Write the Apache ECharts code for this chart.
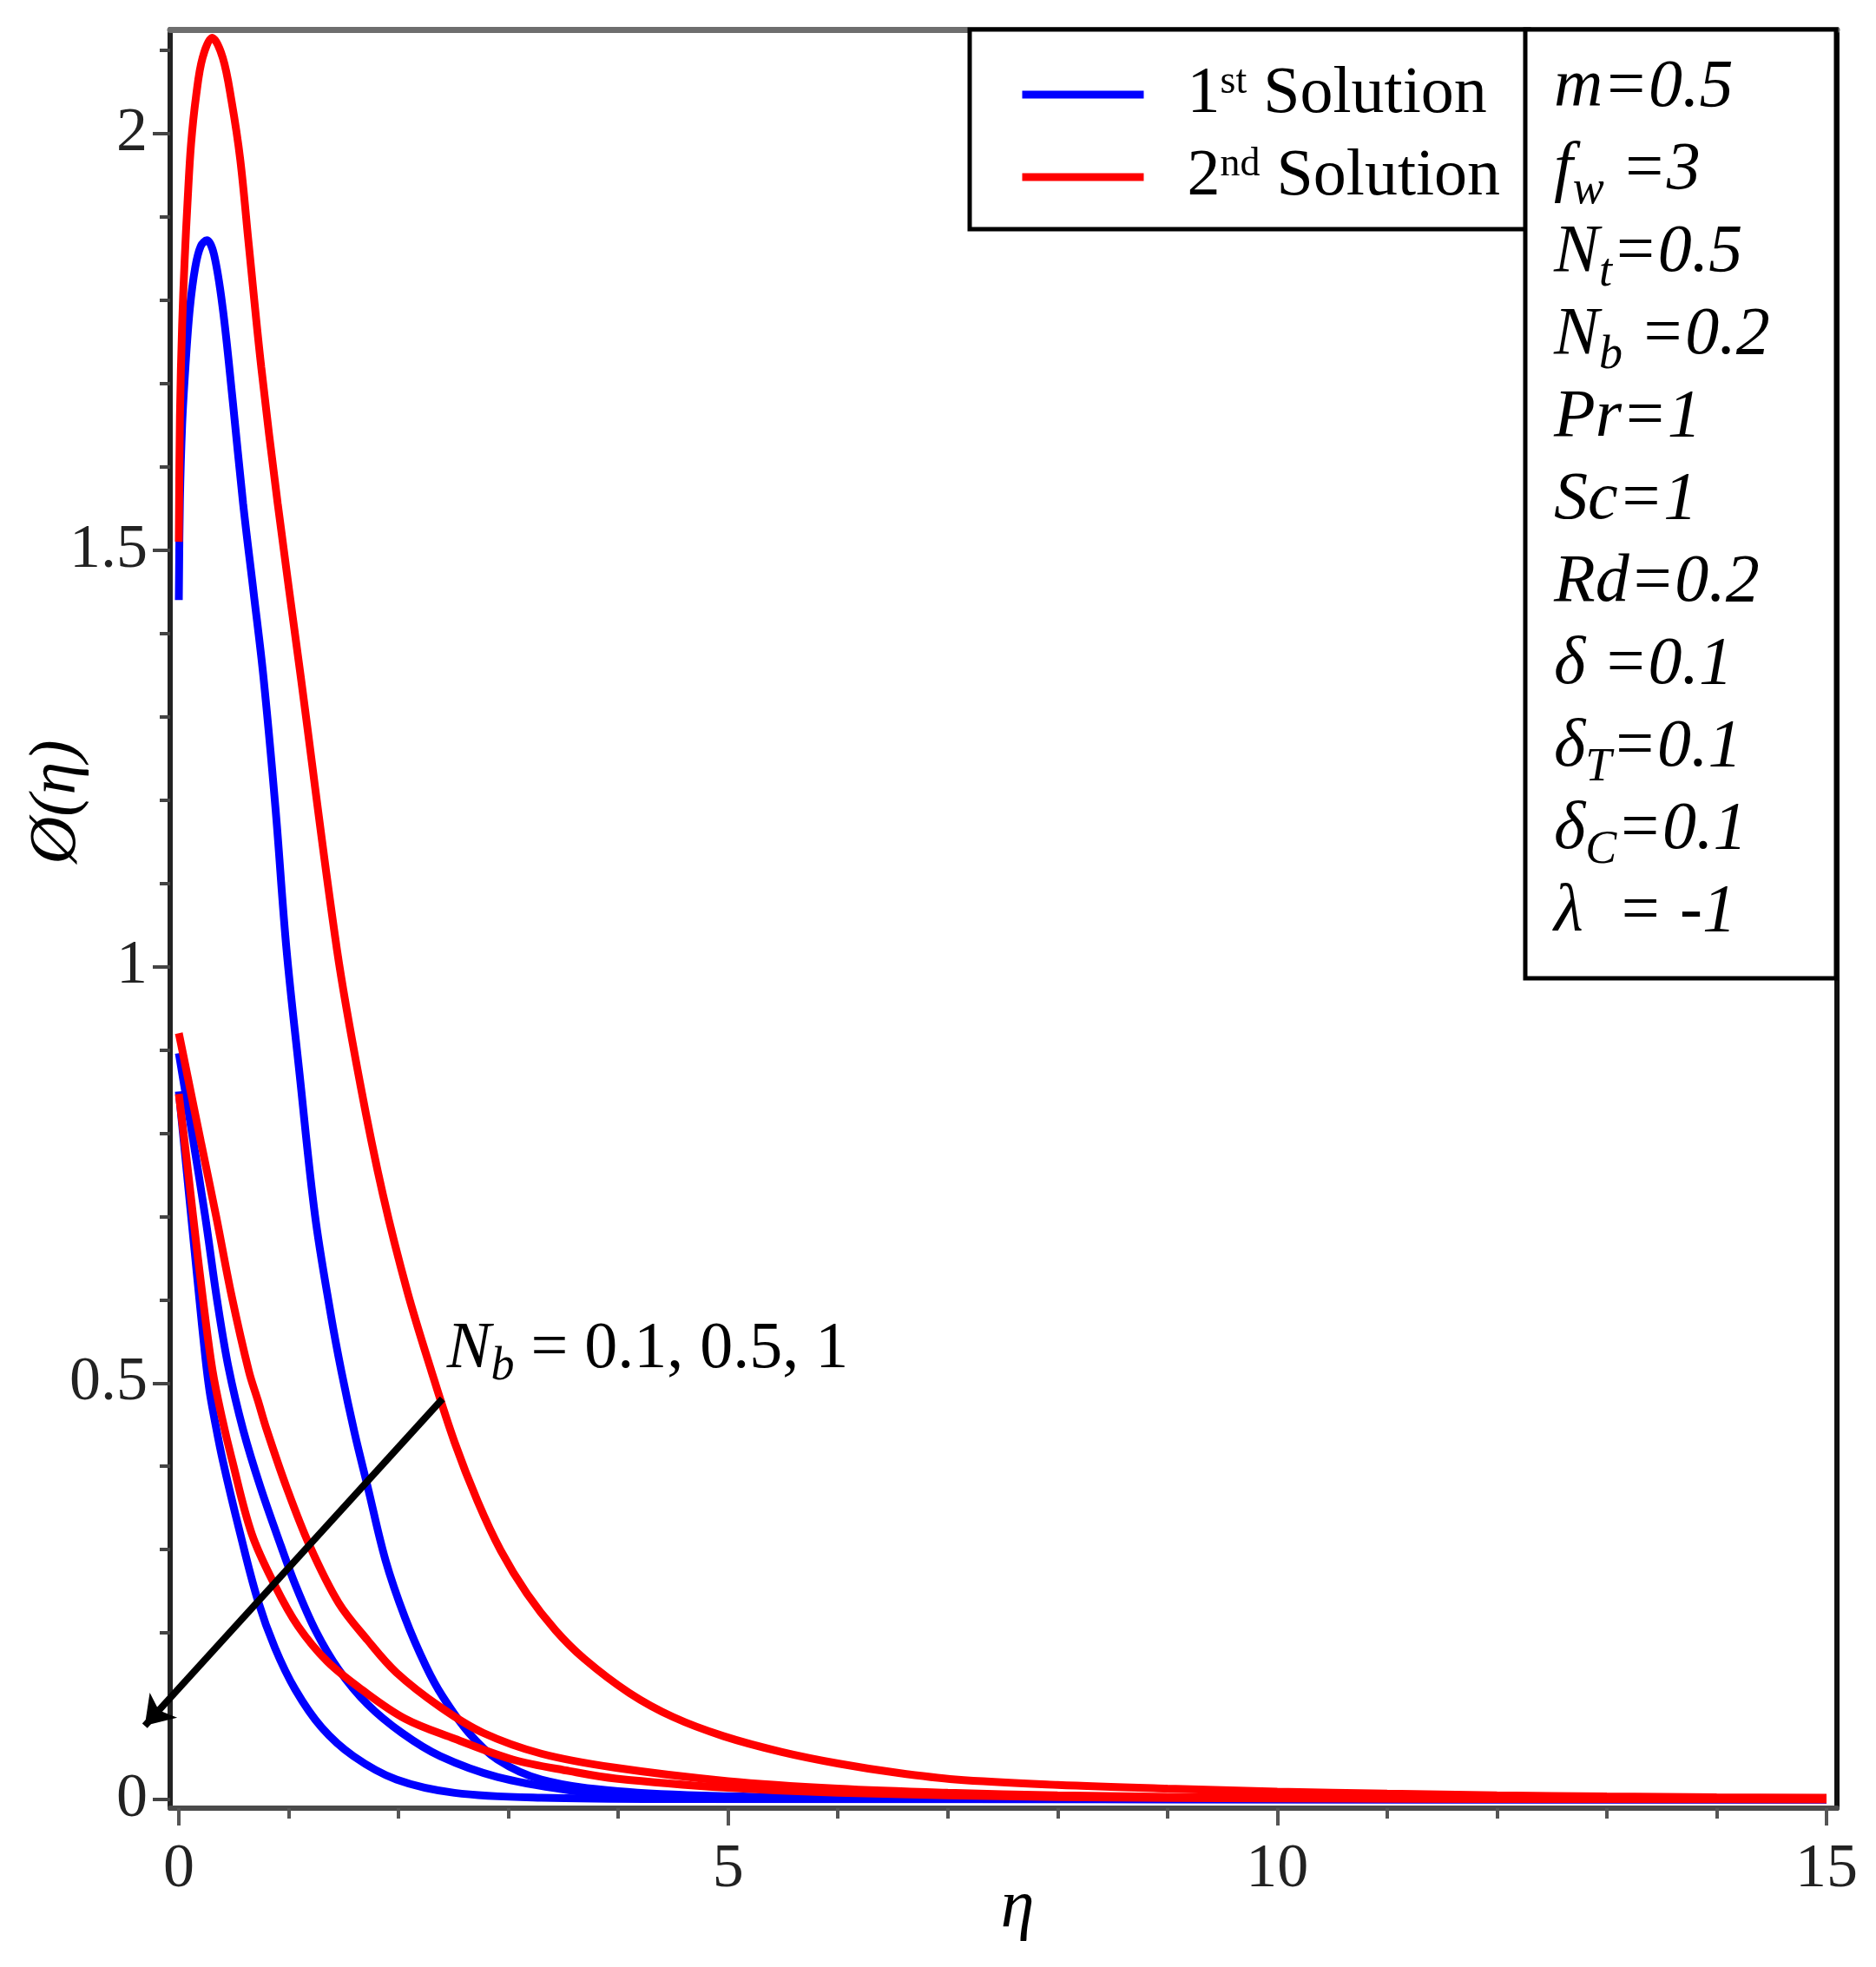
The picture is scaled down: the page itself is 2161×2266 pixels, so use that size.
<!DOCTYPE html>
<html>
<head>
<meta charset="utf-8">
<title>concentration profiles</title>
<script src="https://cdn.jsdelivr.net/npm/echarts@6.0.0/dist/echarts.min.js"></script>
<style>
  html, body { margin: 0; padding: 0; background: #fff; }
  #main { width: 2161px; height: 2266px; }
</style>
</head>
<body>
<div id="main"></div>
<script>
// 1st solution (blue) for Nb = 0.1, 0.5, 1  -> [eta, phi]
var blueNb01 = [[0,1.44],[0.01,1.56],[0.03,1.65],[0.06,1.72],[0.1,1.79],[0.15,1.84],[0.2,1.865],[0.255,1.872],[0.32,1.855],[0.4,1.79],[0.49,1.68],[0.585,1.556],[0.68,1.45],[0.77,1.348],[0.88,1.19],[0.98,1.021],[1.1,0.87],[1.24,0.701],[1.38,0.585],[1.48,0.514],[1.6,0.44],[1.72,0.375],[1.88,0.288],[2.06,0.218],[2.25,0.16],[2.4,0.124],[2.64,0.08],[2.9,0.048],[3.3,0.024],[4,0.01],[5,0.004],[6.5,0.0015],[9,0.0004],[15,0]];
var blueNb05 = [[0,0.896],[0.12,0.8],[0.24,0.7],[0.35,0.598],[0.453,0.518],[0.585,0.444],[0.743,0.375],[0.928,0.305],[1.06,0.258],[1.244,0.203],[1.455,0.156],[1.72,0.114],[2.03,0.08],[2.38,0.052],[2.9,0.027],[3.56,0.011],[4,0.006],[5,0.002],[7,0.0005],[15,0]];
var blueNb1 = [[0,0.85],[0.06,0.77],[0.12,0.69],[0.18,0.61],[0.242,0.53],[0.28,0.49],[0.32,0.46],[0.4,0.407],[0.559,0.319],[0.717,0.24],[0.875,0.182],[1.06,0.132],[1.3,0.0865],[1.59,0.052],[1.98,0.024],[2.51,0.008],[3.3,0.002],[4.5,0.0005],[15,0]];

// 2nd solution (red) for Nb = 0.1, 0.5, 1
var redNb01 = [[0,1.51],[0.01,1.66],[0.03,1.77],[0.053,1.848],[0.079,1.917],[0.111,1.987],[0.158,2.046],[0.216,2.091],[0.303,2.115],[0.4,2.091],[0.48,2.039],[0.559,1.969],[0.638,1.865],[0.75,1.72],[0.9,1.556],[1.11,1.348],[1.44,1.02],[1.65,0.86],[1.86,0.725],[2.08,0.61],[2.3,0.514],[2.51,0.429],[2.72,0.358],[2.93,0.299],[3.17,0.247],[3.43,0.203],[3.69,0.169],[4.1,0.128],[4.5,0.099],[4.96,0.076],[5.49,0.057],[6.01,0.043],[6.54,0.032],[7.07,0.024],[8,0.0175],[9,0.013],[10,0.0095],[11,0.007],[12,0.005],[13,0.0037],[14,0.0027],[15,0.002]];
var redNb05 = [[0,0.92],[0.1,0.855],[0.2,0.79],[0.34,0.7],[0.48,0.605],[0.638,0.514],[0.72,0.479],[0.8,0.444],[0.98,0.375],[1.19,0.305],[1.455,0.236],[1.72,0.191],[1.98,0.1525],[2.38,0.111],[2.77,0.08],[3.3,0.055],[3.98,0.038],[5,0.022],[6,0.013],[7,0.008],[8,0.005],[10,0.002],[12,0.001],[15,0.0003]];
var redNb1 = [[0,0.847],[0.07,0.77],[0.13,0.7],[0.22,0.6],[0.308,0.514],[0.39,0.46],[0.48,0.41],[0.664,0.319],[0.875,0.257],[1.086,0.208],[1.35,0.166],[1.665,0.132],[2.06,0.097],[2.51,0.073],[3.04,0.048],[3.56,0.034],[3.98,0.025],[5,0.014],[6,0.008],[8,0.003],[10,0.0012],[15,0.0002]];

// ticks
var xMajor = [0, 5, 10, 15];
var xMinor = [0, 1, 2, 3, 4, 5, 6, 7, 8, 9, 10, 11, 12, 13, 14, 15];
var yMajor = [0, 0.5, 1, 1.5, 2];
var yMinor = [0, 0.1, 0.2, 0.3, 0.4, 0.5, 0.6, 0.7, 0.8, 0.9, 1, 1.1, 1.2, 1.3, 1.4, 1.5, 1.6, 1.7, 1.8, 1.9, 2, 2.1];

// legend and parameter box text: [number, superscript, rest] / [symbol, subscript, rest]
var legendNames = ['1st Solution', '2nd Solution'];
var legendParts = [['1', 'st', ' Solution'], ['2', 'nd', ' Solution']];
var params = [
  ['m', '', '=0.5'],
  ['f', 'w', ' =3'],
  ['N', 't', '=0.5'],
  ['N', 'b', ' =0.2'],
  ['Pr', '', '=1'],
  ['Sc', '', '=1'],
  ['Rd', '', '=0.2'],
  ['δ', '', ' =0.1'],
  ['δ', 'T', '=0.1'],
  ['δ', 'C', '=0.1'],
  ['λ', '', '  = -1']
];

// arrow across the Nb curves and its label
var arrowFrom = [2.40, 0.481];
var arrowTo = [-0.31, 0.0885];
var nbLabelAt = [2.44, 0.54];
var nbLabel = ['N', 'b', ' = 0.1, 0.5, 1'];

var serif = 'Liberation Serif';
var chart = echarts.init(document.getElementById('main'));

function curve(name, data, color) {
  return {
    name: name, type: 'line', data: data,
    showSymbol: false, symbol: 'none',
    smooth: 0.35,
    lineStyle: { color: color, width: 9 },
    itemStyle: { color: color },
    z: 2
  };
}

var xMin = -0.079, xMax = 15.095, yMin = -0.0104, yMax = 2.125;

function frameAxis(pos, color, width) {
  var horiz = pos === 'top' || pos === 'bottom';
  return {
    type: 'value', position: pos,
    min: horiz ? xMin : yMin, max: horiz ? xMax : yMax,
    axisLine: { show: true, onZero: false, lineStyle: { color: color, width: width } },
    axisTick: { show: false }, axisLabel: { show: false }, splitLine: { show: false }
  };
}

var paramText = params.map(function (p) {
  return '{i|' + p[0] + '}' + (p[1] ? '{s|' + p[1] + '}' : '') + '{i|' + p[2] + '}';
}).join('\n');

var option = {
  animation: false,
  backgroundColor: '#fff',
  grid: { left: 196, right: 45, top: 34, bottom: 183, containLabel: false, outerBoundsMode: 'none' },
  legend: {
    data: legendNames,
    orient: 'vertical',
    left: 1117, top: 34,
    padding: [37, 33, 22, 56],
    itemWidth: 140, itemHeight: 40, itemGap: 19,
    backgroundColor: '#fff', borderColor: '#000', borderWidth: 5,
    selectedMode: false,
    itemStyle: { opacity: 0 },
    lineStyle: { width: 9 },
    formatter: function (name) {
      var p = legendParts[legendNames.indexOf(name)];
      return '{lead|' + p[0] + '}{sup|' + p[1] + '}{n|' + p[2] + '}';
    },
    textStyle: {
      fontFamily: serif, fontSize: 76, color: '#000',
      rich: {
        lead: { fontFamily: serif, fontSize: 76, lineHeight: 76, color: '#000', padding: [0, 0, 0, 45] },
        sup: { fontFamily: serif, fontSize: 46, lineHeight: 46, color: '#000', padding: [0, 0, 29, 0] },
        n: { fontFamily: serif, fontSize: 76, lineHeight: 76, color: '#000' }
      }
    }
  },
  xAxis: [
    {
      type: 'value', position: 'bottom', min: xMin, max: xMax,
      axisLine: { show: true, onZero: false, lineStyle: { color: '#4a4a4a', width: 6 } },
      axisTick: { show: true, customValues: xMajor, length: 20, lineStyle: { color: '#555', width: 4 } },
      axisLabel: { customValues: xMajor, margin: 35, fontFamily: serif, fontSize: 72, color: '#222' },
      splitLine: { show: false },
      name: 'η', nameLocation: 'middle', nameGap: 76, nameMoveOverlap: false,
      nameTextStyle: { fontFamily: serif, fontStyle: 'italic', fontSize: 78, color: '#000', padding: [0, 0, 0, 32] }
    },
    {
      type: 'value', position: 'bottom', min: xMin, max: xMax,
      axisLine: { show: false, onZero: false },
      axisTick: { show: true, customValues: xMinor, length: 12, lineStyle: { color: '#555', width: 4 } },
      axisLabel: { show: false }, splitLine: { show: false }
    },
    frameAxis('top', '#6e6e6e', 7)
  ],
  yAxis: [
    {
      type: 'value', position: 'left', min: yMin, max: yMax,
      axisLine: { show: true, onZero: false, lineStyle: { color: '#222', width: 6 } },
      axisTick: { show: true, customValues: yMajor, length: 20, lineStyle: { color: '#444', width: 4 } },
      axisLabel: { customValues: yMajor, margin: 26, fontFamily: serif, fontSize: 72, color: '#222' },
      splitLine: { show: false }
    },
    {
      type: 'value', position: 'left', min: yMin, max: yMax,
      axisLine: { show: false, onZero: false },
      axisTick: { show: true, customValues: yMinor, length: 12, lineStyle: { color: '#444', width: 4 } },
      axisLabel: { show: false }, splitLine: { show: false }
    },
    frameAxis('right', '#111', 6)
  ],
  series: [
    curve(legendNames[0], blueNb01, '#0000ff'),
    curve(legendNames[0], blueNb05, '#0000ff'),
    curve(legendNames[0], blueNb1, '#0000ff'),
    curve(legendNames[1], redNb01, '#ff0000'),
    curve(legendNames[1], redNb05, '#ff0000'),
    curve(legendNames[1], redNb1, '#ff0000'),
    {
      name: 'arrow', type: 'lines', coordinateSystem: 'cartesian2d',
      clip: false, silent: true, z: 5,
      symbol: ['none', 'arrow'], symbolSize: 32,
      lineStyle: { color: '#000', width: 8, opacity: 1 },
      data: [{ coords: [arrowFrom, arrowTo] }]
    }
  ],
  graphic: [
    {
      id: 'paramBox', type: 'rect', z: 10,
      shape: { x: 1757, y: 34, width: 358, height: 1093 },
      style: { fill: '#fff', stroke: '#000', lineWidth: 5 }
    },
    {
      id: 'paramText', type: 'text', z: 11, x: 1790, y: 54,
      style: {
        text: paramText, align: 'left', verticalAlign: 'top',
        rich: {
          i: { fontFamily: serif, fontStyle: 'italic', fontSize: 78, lineHeight: 95, fill: '#000' },
          s: { fontFamily: serif, fontStyle: 'italic', fontSize: 54, lineHeight: 48, fill: '#000', padding: [46, 0, 0, 0] }
        }
      }
    },
    {
      id: 'yName', type: 'text', z: 11, x: 66, y: 924, rotation: Math.PI / 2,
      style: {
        text: 'Ø(η)', fontFamily: serif, fontStyle: 'italic', fontSize: 76,
        fill: '#000', align: 'center', verticalAlign: 'middle'
      }
    }
  ]
};

chart.setOption(option);

// label for the Nb arrow, anchored in data coordinates
var at = chart.convertToPixel({ xAxisIndex: 0, yAxisIndex: 0 }, nbLabelAt);
chart.setOption({
  graphic: [{
    id: 'nbLabel', type: 'text', z: 11, x: at[0], y: at[1],
    style: {
      text: '{n|' + nbLabel[0] + '}{b|' + nbLabel[1] + '}{t|' + nbLabel[2] + '}',
      align: 'left', verticalAlign: 'middle',
      rich: {
        n: { fontFamily: serif, fontStyle: 'italic', fontSize: 76, lineHeight: 80, fill: '#000' },
        b: { fontFamily: serif, fontStyle: 'italic', fontSize: 54, lineHeight: 40, fill: '#000', padding: [40, 0, 0, 0] },
        t: { fontFamily: serif, fontSize: 76, lineHeight: 80, fill: '#000' }
      }
    }
  }]
});
</script>
</body>
</html>
